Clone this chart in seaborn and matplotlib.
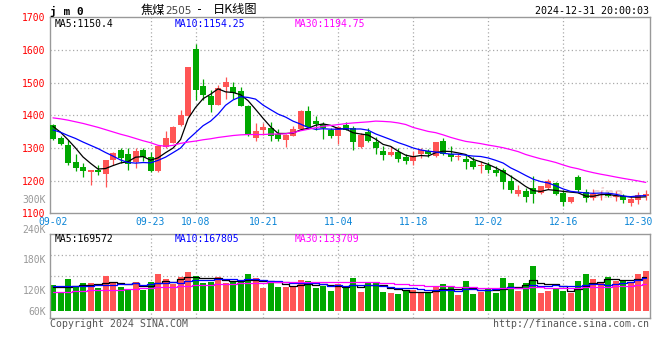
import matplotlib
matplotlib.use('Agg')
import matplotlib.pyplot as plt
import numpy as np
import pandas as pd
import seaborn as sns

# trading days shown on the chart
dates = ['09-02', '09-03', '09-04', '09-05', '09-06', '09-09', '09-10', '09-11', '09-12', '09-13',
         '09-18', '09-19', '09-20', '09-23', '09-24', '09-25', '09-26', '09-27', '09-30',
         '10-08', '10-09', '10-10', '10-11', '10-14', '10-15', '10-16', '10-17', '10-18',
         '10-21', '10-22', '10-23', '10-24', '10-25', '10-28', '10-29', '10-30', '10-31',
         '11-01', '11-04', '11-05', '11-06', '11-07', '11-08', '11-11', '11-12', '11-13', '11-14',
         '11-15', '11-18', '11-19', '11-20', '11-21', '11-22', '11-25', '11-26', '11-27', '11-28',
         '11-29', '12-02', '12-03', '12-04', '12-05', '12-06', '12-09', '12-10', '12-11', '12-12',
         '12-13', '12-16', '12-17', '12-18', '12-19', '12-20', '12-23', '12-24', '12-25', '12-26',
         '12-27', '12-30', '12-31']

opens = [1371, 1329, 1310, 1258, 1243, 1226, 1234, 1221, 1262, 1293,
         1280, 1257, 1293, 1272, 1228, 1303, 1316, 1371, 1399, 1604,
         1489, 1460, 1432, 1485, 1487, 1473, 1429, 1331, 1354, 1361,
         1343, 1325, 1336, 1358, 1412, 1381, 1374, 1354, 1338, 1371,
         1361, 1302, 1348, 1317, 1292, 1279, 1287, 1271, 1259, 1280,
         1292, 1274, 1320, 1282, 1272, 1267, 1261, 1245, 1247, 1234,
         1231, 1200, 1159, 1169, 1178, 1162, 1178, 1193, 1162, 1134,
         1211, 1165, 1147, 1157, 1159, 1151, 1152, 1132, 1142, 1152]
highs = [1374, 1335, 1325, 1280, 1254, 1234, 1249, 1264, 1287, 1300,
         1300, 1300, 1300, 1287, 1310, 1351, 1366, 1417, 1547, 1619,
         1511, 1478, 1494, 1517, 1501, 1485, 1432, 1377, 1377, 1378,
         1358, 1343, 1368, 1417, 1427, 1399, 1378, 1361, 1366, 1380,
         1368, 1345, 1361, 1332, 1305, 1305, 1300, 1280, 1290, 1300,
         1298, 1317, 1331, 1305, 1283, 1280, 1271, 1261, 1257, 1244,
         1239, 1218, 1188, 1177, 1213, 1185, 1204, 1196, 1172, 1149,
         1218, 1175, 1175, 1168, 1165, 1169, 1159, 1153, 1166, 1171]
lows = [1323, 1308, 1249, 1228, 1210, 1188, 1218, 1179, 1249, 1254,
        1234, 1239, 1261, 1225, 1225, 1300, 1314, 1368, 1397, 1448,
        1448, 1409, 1432, 1450, 1450, 1427, 1338, 1322, 1341, 1322,
        1320, 1303, 1336, 1355, 1357, 1356, 1328, 1331, 1312, 1356,
        1293, 1300, 1317, 1280, 1264, 1274, 1258, 1252, 1249, 1270,
        1271, 1271, 1277, 1261, 1263, 1236, 1237, 1222, 1223, 1215,
        1173, 1162, 1152, 1135, 1132, 1160, 1175, 1155, 1121, 1130,
        1162, 1134, 1140, 1140, 1150, 1138, 1131, 1122, 1129, 1142]
closes = [1328, 1313, 1254, 1238, 1229, 1231, 1225, 1262, 1283, 1269,
          1252, 1292, 1272, 1228, 1305, 1330, 1363, 1402, 1547, 1478,
          1463, 1432, 1484, 1501, 1468, 1429, 1341, 1351, 1364, 1338,
          1328, 1340, 1358, 1412, 1363, 1374, 1360, 1336, 1363, 1356,
          1317, 1341, 1320, 1299, 1277, 1287, 1267, 1259, 1276, 1295,
          1280, 1317, 1282, 1271, 1274, 1256, 1241, 1246, 1231, 1223,
          1196, 1170, 1172, 1149, 1160, 1183, 1198, 1160, 1134, 1149,
          1172, 1147, 1159, 1158, 1154, 1152, 1140, 1144, 1157, 1159]
# volume in thousands of lots
volumes_k = [131, 97, 162, 123, 142, 142, 117, 177, 142, 123,
             112, 146, 105, 146, 187, 162, 138, 172, 198, 177,
             142, 148, 172, 140, 148, 146, 187, 168, 117, 144,
             121, 121, 121, 157, 151, 117, 125, 100, 136, 114,
             168, 97, 143, 140, 97, 91, 85, 102, 105, 88,
             88, 121, 138, 121, 80, 151, 85, 97, 108, 91,
             168, 143, 102, 143, 230, 91, 102, 108, 102, 91,
             153, 187, 162, 144, 174, 153, 157, 148, 187, 202]

# moving-average values before the window fills
ma5_head = [1366, 1348, 1325, 1300]
ma10_head = [1355, 1348, 1338, 1329, 1318, 1308, 1298, 1286, 1275]
ma30_head = [1392, 1389, 1385, 1380, 1375, 1369, 1363, 1356, 1349, 1342,
             1336, 1329, 1322, 1316, 1308, 1305, 1308, 1314, 1318, 1321,
             1325, 1328, 1332, 1335, 1338, 1340, 1341, 1341, 1341]
vma5_head_k = [121, 119, 122, 124]
vma10_head_k = [124, 124, 125, 126, 127, 128, 129, 130, 131]
vma30_head_k = [93, 94, 96, 99, 101, 103, 105, 105, 106, 107,
                108, 110, 114, 117, 119, 121, 123, 124, 127, 129,
                131, 133, 134, 136, 137, 139, 140, 140, 140]

# values printed in the chart headers
ma_labels = ['MA5:1150.4', 'MA10:1154.25', 'MA30:1194.75']
vma_labels = ['MA5:169572', 'MA10:167805', 'MA30:133709']

tick_dates = ['09-02', '09-23', '10-08', '10-21', '11-04', '11-18', '12-02', '12-16', '12-30']
grid_dates = ['09-23', '10-08', '10-21', '11-04', '11-18', '12-02', '12-16']
price_ticks = [1100, 1200, 1300, 1400, 1500, 1600, 1700]
vol_labels = ['300K', '240K', '180K', '120K', '60K']


def moving(values, n, head):
    m = pd.Series(values, dtype=float).rolling(n).mean().to_numpy()
    m[:n - 1] = head
    return m


sns.set_style('white')
plt.rcParams['font.family'] = ['DejaVu Sans Mono']

RED = '#ff5555'
GREEN = '#00a800'
GRID = '#aaaaaa'
MONO = 'DejaVu Sans Mono'
MA_COLORS = ['black', '#0000ff', '#ff00ff']

W, H = 660, 360
fig = plt.figure(figsize=(W / 100, H / 100), dpi=100)


def box(l, t, r, b):
    return [l / W, 1 - b / H, (r - l) / W, (b - t) / H]


def ftext(xp, yp, s, **kw):
    kw.setdefault('va', 'center')
    fig.text(xp / W, 1 - yp / H, s, **kw)


ax = fig.add_axes(box(50, 17.2, 649.5, 213.3))
axv = fig.add_axes(box(50, 234.3, 649.5, 318.3))

x = np.arange(len(dates))
o = np.array(opens, float)
c = np.array(closes, float)
cols = np.where(c >= o, RED, GREEN)

# ---- price panel
for g in price_ticks[1:-1]:
    ax.axhline(g, color=GRID, lw=0.9, ls=(0, (1, 2)), zorder=1)
for d in grid_dates:
    ax.axvline(dates.index(d), color=GRID, lw=0.9, ls=(0, (1, 2)), zorder=1)

ax.vlines(x, lows, highs, colors=cols, lw=0.9, zorder=2)
body = np.maximum(np.abs(c - o), 2.0)
ax.bar(x, body, bottom=np.minimum(o, c), width=0.8, color=cols, linewidth=0, zorder=3)

ma_lines = [moving(closes, 5, ma5_head), moving(closes, 10, ma10_head), moving(closes, 30, ma30_head)]
for m, col in zip(ma_lines, MA_COLORS):
    sns.lineplot(x=x, y=m, ax=ax, color=col, linewidth=0.9, legend=False, zorder=4)

ax.set_xlim(-0.4, 79.5)
ax.set_ylim(1100, 1700)
ax.set_yticks(price_ticks)
ax.set_yticklabels([str(p) for p in price_ticks], color='#ff0000', fontsize=7, family=MONO)
ax.set_xticks([dates.index(d) for d in tick_dates])
ax.set_xticklabels(tick_dates, color='#0a84d6', fontsize=7, family=MONO)
ax.tick_params(length=0, pad=3)
ax.set_xlabel('')
ax.set_ylabel('')
for s in ax.spines.values():
    s.set_color('#999999')
    s.set_linewidth(1.0)

ax.text(0.93, 0.1, 'sina', transform=ax.transAxes, fontsize=10, fontweight='bold',
        style='italic', color='#f0d0d0', family='DejaVu Sans', ha='center', va='center', zorder=0)

# ---- volume panel
vol = np.array(volumes_k, float) * 1000
axv.set_xlim(-0.4, 79.5)
axv.set_ylim(-40000, 391000)
lo, hi = axv.get_ylim()
for frac in [0.25, 0.5, 0.75]:
    axv.axhline(lo + (hi - lo) * frac, color=GRID, lw=0.9, ls=(0, (1, 2)), zorder=1)
for d in grid_dates:
    axv.axvline(dates.index(d), color=GRID, lw=0.9, ls=(0, (1, 2)), zorder=1)
axv.bar(x, vol, width=0.8, color=cols, linewidth=0, zorder=2)

vma_lines = [moving(vol, 5, np.array(vma5_head_k) * 1000),
             moving(vol, 10, np.array(vma10_head_k) * 1000),
             moving(vol, 30, np.array(vma30_head_k) * 1000)]
for m, col in zip(vma_lines, MA_COLORS):
    sns.lineplot(x=x, y=m, ax=axv, color=col, linewidth=0.9, legend=False, zorder=4,
                 drawstyle='steps-mid')
axv.set_xticks([])
axv.set_yticks([])
axv.set_xlabel('')
axv.set_ylabel('')
for s in axv.spines.values():
    s.set_color('#999999')
    s.set_linewidth(1.0)

# ---- texts
ftext(50, 11, 'j m 0', fontsize=8, fontweight='bold', family=MONO, color='black')
ftext(140.5, 10, '焦煤', fontsize=8.8, family=['Noto Sans CJK SC', 'DejaVu Sans'], color='black')
ftext(165.5, 10.5, '2505', fontsize=7.5, family='DejaVu Sans', color='#444444')
ftext(200, 10, '-', fontsize=8.5, family=MONO, color='black', ha='center')
ftext(213, 10, '日K线图', fontsize=8.8, family=['Noto Sans CJK SC', 'DejaVu Sans'], color='black')
ftext(649, 11.5, '2024-12-31 20:00:03', fontsize=7.2, family=MONO, color='black', ha='right')

for lab, xp, col in zip(ma_labels, [55, 175, 295], MA_COLORS):
    ftext(xp, 24, lab, fontsize=7, family=MONO, color=col)
for lab, xp, col in zip(vma_labels, [55, 175, 295], MA_COLORS):
    ftext(xp, 238.5, lab, fontsize=7, family=MONO, color=col)

for lab, yp in zip(vol_labels, [200.3, 230, 260.3, 291, 311.7]):
    ftext(46, yp, lab, fontsize=7, family=MONO, color='#999999', ha='right')

ftext(50, 324, 'Copyright 2024 SINA.COM', fontsize=7.1, family=MONO, color='#555555')
ftext(649, 324, 'http://finance.sina.com.cn', fontsize=7.1, family=MONO, color='#555555', ha='right')

fig.savefig('out.png', dpi=100)
